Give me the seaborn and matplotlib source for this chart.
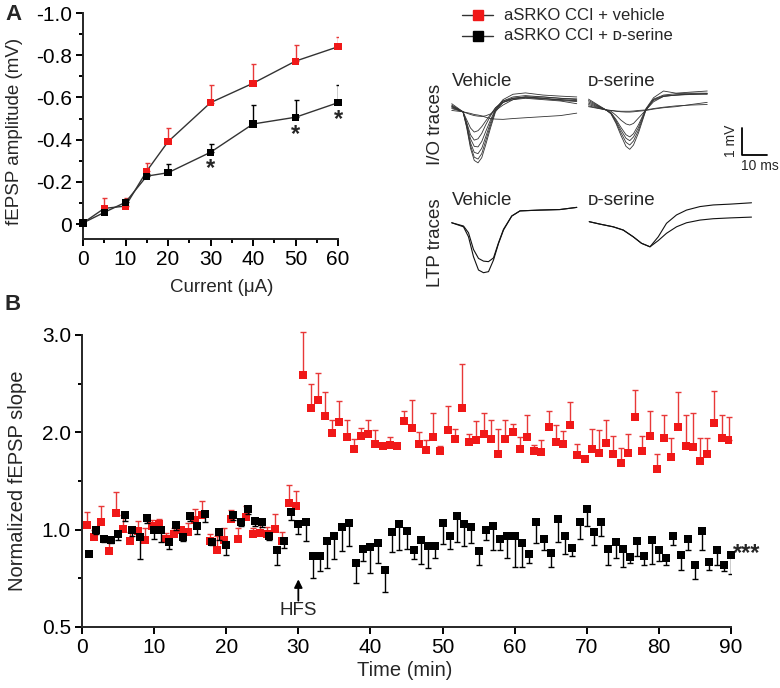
"""
fEPSP input/output curve, example traces and LTP time course
(aSRKO CCI + vehicle vs aSRKO CCI + D-serine)
"""

import numpy as np
import pandas as pd
import matplotlib
matplotlib.use("Agg")
import matplotlib.pyplot as plt
from matplotlib.lines import Line2D
from matplotlib.ticker import FixedLocator, FuncFormatter
import seaborn as sns


# =============================================================================
# DATA
# =============================================================================
# Panel A - input/output curve (mV, negative going)
current_ua = [0, 5, 10, 15, 20, 30, 40, 50, 60]
io_vehicle = [-0.005, -0.074, -0.085, -0.251, -0.39, -0.575, -0.667, -0.772, -0.84]
io_vehicle_sem = [0.0, 0.048, 0.04, 0.037, 0.063, 0.084, 0.09, 0.076, 0.048]
io_dserine = [-0.005, -0.055, -0.103, -0.227, -0.243, -0.34, -0.474, -0.506, -0.575]
io_dserine_sem = [0.0, 0.01, 0.015, 0.01, 0.04, 0.04, 0.09, 0.08, 0.084]
io_star_current = [30, 50, 60]
io_star_level = [-0.265, -0.425, -0.495]
group_labels = ["aSRKO CCI + vehicle", "aSRKO CCI + \u1d05-serine"]

# Panel B - normalized fEPSP slope, one point per minute
ltp_vehicle = [
    1.051, 0.96, 1.079, 0.889, 1.171, 1.01, 0.943, 0.995, 0.949, 1.041,
    1.058, 0.954, 0.98, 1.0, 0.99, 1.103, 1.154, 0.94, 0.897, 0.949,
    1.113, 0.954, 1.13, 0.98, 0.983, 0.98, 1.007, 0.94, 1.274, 1.24,
    2.586, 2.25, 2.329, 2.17, 1.993, 2.107, 1.949, 1.829, 1.959, 1.983,
    1.884, 1.856, 1.867, 1.856, 2.113, 2.045, 1.884, 1.822, 1.952, 1.812,
    2.028, 1.928, 2.25, 1.90, 1.925, 1.987, 1.935, 1.778, 1.932, 2.004,
    1.829, 1.952, 1.812, 1.795, 2.052, 1.898, 1.88, 2.079, 1.771, 1.726,
    1.832, 1.788, 1.89, 1.778, 1.685, 1.788, 2.158, 1.808, 1.966, 1.627,
    1.939, 1.743, 2.052, 1.856, 1.85, 1.709, 1.778, 2.096, 1.942, 1.918,
]
ltp_vehicle_sem = [
    0.127, 0.04, 0.16, 0.057, 0.22, 0.14, 0.045, 0.095, 0.07, 0.06,
    0.05, 0.03, 0.04, 0.03, 0.08, 0.11, 0.137, 0.04, 0.07, 0.07,
    0.09, 0.06, 0.11, 0.04, 0.1, 0.05, 0.15, 0.05, 0.19, 0.157,
    0.44, 0.247, 0.28, 0.24, 0.137, 0.21, 0.18, 0.1, 0.085, 0.14,
    0.137, 0.02, 0.09, 0.02, 0.11, 0.29, 0.116, 0.1, 0.247, 0.045,
    0.24, 0.11, 0.452, 0.086, 0.19, 0.21, 0.195, 0.257, 0.19, 0.086,
    0.123, 0.226, 0.06, 0.13, 0.17, 0.18, 0.137, 0.23, 0.113, 0.02,
    0.2, 0.24, 0.24, 0.18, 0.154, 0.19, 0.28, 0.157, 0.25, 0.154,
    0.236, 0.2, 0.36, 0.325, 0.35, 0.233, 0.164, 0.332, 0.24, 0.24,
]
ltp_dserine = [
    0.877, 1.0, 0.952, 0.945, 0.98, 1.154, 1.0, 0.962, 1.116, 1.0,
    1.0, 0.935, 1.045, 0.962, 1.137, 1.034, 1.16, 0.938, 0.988, 0.92,
    1.15, 1.075, 1.216, 1.086, 1.075, 0.966, 0.897, 0.94, 1.178, 1.055,
    1.082, 0.863, 0.866, 0.94, 0.966, 1.027, 1.068, 0.829, 0.902, 0.911,
    0.931, 0.794, 0.986, 1.055, 0.995, 0.897, 0.949, 0.918, 0.918, 1.068,
    0.966, 1.137, 1.062, 1.027, 0.889, 1.0, 1.034, 0.952, 0.969, 0.966,
    0.932, 0.873, 1.079, 0.954, 0.88, 1.113, 0.966, 0.904, 1.075, 1.212,
    0.988, 1.075, 0.902, 0.937, 0.902, 0.86, 0.94, 0.863, 0.945, 0.894,
    0.856, 0.969, 0.87, 0.952, 0.818, 0.993, 0.832, 0.897, 0.82, 0.868,
]
ltp_dserine_sem = [
    0.01, 0.02, 0.015, 0.015, 0.035, 0.06, 0.035, 0.113, 0.048, 0.05,
    0.063, 0.035, 0.045, 0.02, 0.05, 0.055, 0.085, 0.015, 0.04, 0.05,
    0.048, 0.041, 0.051, 0.051, 0.048, 0.02, 0.077, 0.035, 0.082, 0.079,
    0.142, 0.113, 0.08, 0.137, 0.116, 0.138, 0.15, 0.103, 0.062, 0.134,
    0.1, 0.116, 0.103, 0.158, 0.094, 0.05, 0.125, 0.115, 0.063, 0.14,
    0.063, 0.2, 0.144, 0.097, 0.07, 0.055, 0.137, 0.055, 0.115, 0.16,
    0.125, 0.045, 0.15, 0.057, 0.072, 0.176, 0.09, 0.04, 0.123, 0.178,
    0.068, 0.11, 0.082, 0.082, 0.094, 0.03, 0.074, 0.046, 0.12, 0.056,
    0.04, 0.05, 0.075, 0.055, 0.072, 0.096, 0.041, 0.077, 0.034, 0.094,
]
time_dserine = np.arange(1, 91)
time_vehicle = time_dserine - 0.3
hfs_time = 30

# Example traces (ms from stimulus artefact, mV from baseline)
veh_io_t = [-4.5, 0, 1.5, 3, 4.5, 6, 7.5, 9, 11, 13, 16, 20, 25, 32, 39, 45.5]
veh_io_traces = [
    [0.12, 0, -0.6, -1.35, -1.8, -1.89, -1.7, -1.25, -0.6, 0.0, 0.35, 0.5, 0.55, 0.5, 0.45, 0.42],
    [0.2, 0, -0.55, -1.25, -1.68, -1.75, -1.55, -1.1, -0.5, 0.05, 0.4, 0.55, 0.6, 0.55, 0.5, 0.48],
    [0.15, 0, -0.5, -1.15, -1.5, -1.55, -1.35, -0.95, -0.4, 0.08, 0.35, 0.5, 0.52, 0.48, 0.45, 0.4],
    [0.25, 0, -0.45, -1.0, -1.28, -1.3, -1.1, -0.75, -0.3, 0.1, 0.45, 0.65, 0.7, 0.62, 0.58, 0.55],
    [0.18, 0, -0.4, -0.85, -1.05, -1.0, -0.8, -0.5, -0.15, 0.15, 0.4, 0.5, 0.55, 0.5, 0.42, 0.38],
    [0.22, 0, -0.3, -0.6, -0.75, -0.7, -0.55, -0.35, -0.1, 0.15, 0.35, 0.45, 0.5, 0.45, 0.4, 0.3],
    [0.3, 0, -0.05, -0.1, -0.14, -0.16, -0.17, -0.15, -0.08, 0.05, 0.25, 0.45, 0.55, 0.55, 0.5, 0.45],
    [0.05, 0, -0.03, -0.06, -0.1, -0.12, -0.15, -0.2, -0.25, -0.27, -0.28, -0.25, -0.22, -0.18, -0.14, -0.05],
]
ds_io_t = [-7, 0, 2, 4, 6, 8, 9.5, 11, 13, 16, 19, 23, 28, 34, 40.5]
ds_io_traces = [
    [0.3, 0, -0.15, -0.5, -0.95, -1.35, -1.46, -1.3, -0.85, 0.0, 0.35, 0.5, 0.55, 0.58, 0.6],
    [0.4, 0, -0.13, -0.45, -0.85, -1.2, -1.3, -1.15, -0.75, 0.02, 0.4, 0.55, 0.6, 0.62, 0.62],
    [0.2, 0, -0.12, -0.4, -0.75, -1.05, -1.14, -1.0, -0.65, 0.03, 0.38, 0.52, 0.55, 0.6, 0.58],
    [0.35, 0, -0.1, -0.35, -0.65, -0.92, -1.0, -0.88, -0.55, 0.05, 0.45, 0.7, 0.62, 0.66, 0.7],
    [0.15, 0, -0.05, -0.2, -0.38, -0.52, -0.56, -0.5, -0.3, 0.0, 0.3, 0.5, 0.55, 0.57, 0.6],
    [0.12, 0, -0.02, -0.04, -0.05, -0.05, -0.05, -0.04, -0.02, 0.0, 0.05, 0.1, 0.15, 0.18, 0.2],
    [0.25, 0, -0.02, -0.05, -0.07, -0.08, -0.08, -0.07, -0.05, -0.02, 0.03, 0.08, 0.12, 0.2, 0.28],
]
veh_ltp_t = [0, 4.7, 6.7, 8.7, 10.7, 12.7, 14.7, 16.7, 18.7, 20.7, 24, 27.3, 35.3, 43.3, 50]
veh_ltp_traces = [
    [0, -0.15, -0.52, -1.26, -1.75, -1.85, -1.81, -1.38, -0.77, -0.27, 0.25, 0.44, 0.47, 0.49, 0.57],
    [0, -0.12, -0.37, -0.99, -1.32, -1.42, -1.44, -1.3, -0.74, -0.24, 0.25, 0.44, 0.47, 0.49, 0.57],
]
ds_ltp_t = [0, 4.3, 9.6, 13.6, 17.6, 20.9, 24.3, 27.6, 30.9, 34.9, 38.9, 44.3, 49.6, 56.3, 64.9]
ds_ltp_traces = [
    [0, -0.09, -0.19, -0.31, -0.56, -0.8, -0.93, -0.56, -0.06, 0.25, 0.43, 0.56, 0.62, 0.65, 0.7],
    [0, -0.09, -0.19, -0.31, -0.56, -0.8, -0.93, -0.7, -0.43, -0.19, -0.04, 0.06, 0.11, 0.14, 0.17],
]

# =============================================================================
# STYLE / LAYOUT
# =============================================================================
FIG_W, FIG_H = 780, 688
RED = "#f01818"
RED_BAR = "#e83838"
BLACK = "#000000"
LINE = "#333333"
FS = 13.5
TICK_FS = 15

sns.set_style("ticks")
plt.rcParams["font.family"] = ["Liberation Sans", "DejaVu Sans"]
plt.rcParams["axes.unicode_minus"] = False
plt.rcParams["axes.linewidth"] = 1.4
for ax_name in ("xtick", "ytick"):
    plt.rcParams[f"{ax_name}.major.width"] = 1.4
    plt.rcParams[f"{ax_name}.minor.width"] = 1.4
    plt.rcParams[f"{ax_name}.major.size"] = 5
    plt.rcParams[f"{ax_name}.minor.size"] = 3
    plt.rcParams[f"{ax_name}.labelsize"] = TICK_FS
    plt.rcParams[f"{ax_name}.color"] = "black"


def rect(left, top, right, bottom):
    """Pixel box -> figure fraction [l, b, w, h]."""
    return [left / FIG_W, 1 - bottom / FIG_H, (right - left) / FIG_W, (bottom - top) / FIG_H]


def fxy(x, y):
    return x / FIG_W, 1 - y / FIG_H


fig = plt.figure(figsize=(FIG_W / 100, FIG_H / 100), dpi=100)

# =============================================================================
# PANEL A - I/O curve
# =============================================================================
ax_a = fig.add_axes(rect(83, 13, 338, 239))
io_df = pd.DataFrame({
    "current": current_ua * 2,
    "amp": io_vehicle + io_dserine,
    "group": ["vehicle"] * len(current_ua) + ["dserine"] * len(current_ua),
})
for grp in ["vehicle", "dserine"]:
    sns.lineplot(data=io_df[io_df["group"] == grp], x="current", y="amp",
                 color=LINE, lw=1, ax=ax_a, zorder=2, clip_on=False)
# bars point away from zero (more negative = up on the inverted axis)
ax_a.errorbar(current_ua, io_vehicle, yerr=[io_vehicle_sem, np.zeros(len(io_vehicle_sem))],
              fmt="none", ecolor=RED_BAR, elinewidth=1, capsize=1.8, capthick=1, zorder=1)
ax_a.errorbar(current_ua, io_dserine, yerr=[io_dserine_sem, np.zeros(len(io_dserine_sem))],
              fmt="none", ecolor=BLACK, elinewidth=1, capsize=1.8, capthick=1, zorder=1)
sns.scatterplot(data=io_df, x="current", y="amp", hue="group",
                palette={"vehicle": RED, "dserine": BLACK}, marker="s", s=26,
                linewidth=0, legend=False, ax=ax_a, zorder=3, clip_on=False)
for c, lvl in zip(io_star_current, io_star_level):
    ax_a.text(c, lvl, "*", ha="center", va="center", fontsize=17, fontweight="bold")

ax_a.set_xlim(0, 60)
ax_a.set_ylim(0.071, -1.0)
ax_a.set_xticks(range(0, 61, 10))
ax_a.xaxis.set_minor_locator(FixedLocator(range(5, 60, 10)))
ax_a.set_yticks([0, -0.2, -0.4, -0.6, -0.8, -1.0])
ax_a.yaxis.set_minor_locator(FixedLocator([-0.1, -0.3, -0.5, -0.7, -0.9]))
ax_a.yaxis.set_major_formatter(FuncFormatter(lambda v, p: "0" if abs(v) < 1e-9 else f"{v:.1f}"))
ax_a.set_xlabel("")
ax_a.set_ylabel("")
ax_a.tick_params(which="both", direction="out", pad=3)
sns.despine(ax=ax_a)

fig.text(*fxy(222, 287), "Current (\u03bcA)", ha="center", va="center", fontsize=FS)
fig.text(*fxy(15, 131), "fEPSP amplitude (mV)", ha="center", va="center",
         rotation=90, fontsize=FS)

# legend, one row per group
for row_y, label, face in zip([15, 36], group_labels, [RED, BLACK]):
    (x_a, y_a), (x_b, _) = fxy(462, row_y), fxy(493, row_y)
    fig.add_artist(Line2D([x_a, x_b], [y_a, y_a], color=LINE, lw=1,
                          transform=fig.transFigure))
    fig.add_artist(Line2D([(x_a + x_b) / 2], [y_a], marker="s", markersize=7,
                          markerfacecolor=face, markeredgecolor=face,
                          transform=fig.transFigure))
    fig.text(*fxy(504, row_y), label, ha="left", va="center", fontsize=12)

# =============================================================================
# EXAMPLE TRACES
# =============================================================================
ax_t = fig.add_axes(rect(440, 90, 775, 290))
ax_t.set_xlim(0, 134)
ax_t.set_ylim(0, 200 / 27)
ax_t.axis("off")

# anchor (ms, mV) of each trace group inside the trace axes
anchors = {
    "veh_io": (9.2, 6.6),
    "ds_io": (66.4, 6.67),
    "veh_ltp": (4.7, 2.49),
    "ds_ltp": (59.7, 2.53),
}
groups = [
    ("veh_io", veh_io_t, veh_io_traces, "#333333", 0.6),
    ("ds_io", ds_io_t, ds_io_traces, "#333333", 0.6),
    ("veh_ltp", veh_ltp_t, veh_ltp_traces, "#111111", 0.8),
    ("ds_ltp", ds_ltp_t, ds_ltp_traces, "#111111", 0.8),
]
for key, t, traces, col, lw in groups:
    x0, y0 = anchors[key]
    for tr in traces:
        sns.lineplot(x=np.asarray(t) + x0, y=np.asarray(tr) + y0, color=col, lw=lw,
                     ax=ax_t, estimator=None, sort=False)

# scale bar: 1 mV / 10 ms
ax_t.plot([120.7, 120.7, 130.7], [6.0, 5.0, 5.0], color="black", lw=1.3)
fig.text(*fxy(731, 141), "1 mV", rotation=90, ha="center", va="center", fontsize=10)
fig.text(*fxy(741, 166), "10 ms", ha="left", va="center", fontsize=10)

fig.text(*fxy(452, 82), "Vehicle", ha="left", va="center", fontsize=FS)
fig.text(*fxy(588, 82), "\u1d05-serine", ha="left", va="center", fontsize=FS)
fig.text(*fxy(452, 200), "Vehicle", ha="left", va="center", fontsize=FS)
fig.text(*fxy(588, 200), "\u1d05-serine", ha="left", va="center", fontsize=FS)
fig.text(*fxy(436, 124), "I/O traces", rotation=90, ha="center", va="center", fontsize=FS)
fig.text(*fxy(436, 243), "LTP traces", rotation=90, ha="center", va="center", fontsize=FS)

# =============================================================================
# PANEL B - LTP time course
# =============================================================================
def fwd(v):
    v = np.asarray(v, dtype=float)
    return np.where(v < 1, 2 * v - 1, v)


def inv(u):
    u = np.asarray(u, dtype=float)
    return np.where(u < 1, (u + 1) / 2, u)


ax_b = fig.add_axes(rect(82, 335, 731, 627))
ax_b.set_yscale("function", functions=(fwd, inv))

ax_b.errorbar(time_vehicle, ltp_vehicle, yerr=[np.zeros(90), ltp_vehicle_sem], fmt="none",
              ecolor=RED_BAR, elinewidth=1, capsize=2, capthick=1, zorder=1, clip_on=False)
sns.scatterplot(x=time_vehicle, y=ltp_vehicle, color=RED, marker="s", s=36, linewidth=0,
                ax=ax_b, zorder=2)
ax_b.errorbar(time_dserine, ltp_dserine, yerr=[ltp_dserine_sem, np.zeros(90)], fmt="none",
              ecolor=BLACK, elinewidth=1, capsize=2, capthick=1, zorder=3)
sns.scatterplot(x=time_dserine, y=ltp_dserine, color=BLACK, marker="s", s=36, linewidth=0,
                ax=ax_b, zorder=4, clip_on=False)

ax_b.annotate("", xy=(hfs_time, 0.745), xytext=(hfs_time, 0.635),
              arrowprops=dict(arrowstyle="-|>", color="black", lw=1.3,
                              mutation_scale=12, shrinkA=0, shrinkB=0))
ax_b.text(hfs_time, 0.585, "HFS", ha="center", va="center", fontsize=FS)
ax_b.text(90.3, 0.875, "***", ha="left", va="center", fontsize=17, fontweight="bold")

ax_b.set_xlim(0, 90)
ax_b.set_ylim(0.5, 3.0)
ax_b.set_xticks(range(0, 91, 10))
ax_b.set_yticks([0.5, 1.0, 2.0, 3.0])
ax_b.set_yticklabels(["0.5", "1.0", "2.0", "3.0"])
ax_b.yaxis.set_minor_locator(FixedLocator([0.75, 1.5, 2.5]))
ax_b.tick_params(which="both", direction="out", pad=3)
sns.despine(ax=ax_b)

fig.text(*fxy(405, 670), "Time (min)", ha="center", va="center", fontsize=14.5)
fig.text(*fxy(18, 481), "Normalized fEPSP slope", ha="center", va="center",
         rotation=90, fontsize=14.5)

# panel letters
fig.text(*fxy(5, 14), "A", ha="left", va="center", fontsize=16, fontweight="bold")
fig.text(*fxy(5, 305), "B", ha="left", va="center", fontsize=16, fontweight="bold")

fig.savefig("out.png", dpi=100)
plt.close(fig)
